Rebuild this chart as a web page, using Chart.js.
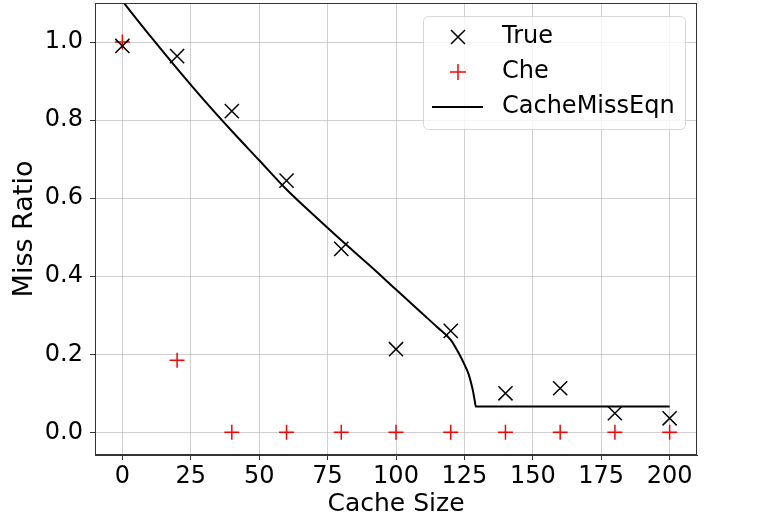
<!DOCTYPE html>
<html>
<head>
<meta charset="utf-8">
<script src="https://cdn.jsdelivr.net/npm/chart.js@4/dist/chart.umd.min.js"></script>
<style>
  body { margin: 0; background: #fff; }
  #wrap { width: 780px; height: 519px; }
</style>
</head>
<body>
<div id="wrap"><canvas id="missChart" width="780" height="519"></canvas></div>
<script>
// cache sizes where the points were measured
const cacheSizes = [0, 20, 40, 60, 80, 100, 120, 140, 160, 180, 200];
const trueMiss = [0.99, 0.964, 0.823, 0.645, 0.47, 0.213, 0.26, 0.10, 0.113, 0.049, 0.036];
const cheMiss = [1.0, 0.185, 0, 0, 0, 0, 0, 0, 0, 0, 0];

// CacheMissEqn curve
const eqnX = [0, 10, 20, 30, 40, 50, 60, 70, 80, 90, 100, 110, 115, 120, 123, 125, 126.5, 127.5, 128.3, 128.8, 129.2, 200];
const eqnY = [1.105, 1.017, 0.932, 0.850, 0.772, 0.697, 0.622, 0.556, 0.492, 0.430, 0.366, 0.302, 0.270, 0.237, 0.202, 0.174, 0.150, 0.125, 0.100, 0.080, 0.066, 0.066];

const xTicks = [0, 25, 50, 75, 100, 125, 150, 175, 200];
const yTicks = [0.0, 0.2, 0.4, 0.6, 0.8, 1.0];

const FONT = "'DejaVu Sans', sans-serif";
const gridColor = 'rgba(176,176,176,0.6)';
const axisColor = '#333';

function toPoints(xs, ys) {
    return xs.map((x, i) => ({ x: x, y: ys[i] }));
}

// frame round the plot + legend box in the top right
const framePlugin = {
    id: 'frame',
    afterDraw(chart) {
        const ctx = chart.ctx;
        const a = chart.chartArea;
        ctx.save();
        ctx.strokeStyle = axisColor;
        ctx.lineWidth = 1;
        ctx.strokeRect(a.left + 0.5, a.top + 0.5, a.right - a.left - 1, a.bottom - a.top - 1);

        // legend
        const bx = 423, by = 16, bw = 262, bh = 113;
        ctx.beginPath();
        ctx.roundRect(bx + 0.5, by + 0.5, bw, bh, 5);
        ctx.fillStyle = 'rgba(255,255,255,0.8)';
        ctx.fill();
        ctx.strokeStyle = 'rgba(204,204,204,0.8)';
        ctx.stroke();

        const mx = 458, tx = 502;
        const rows = [37, 72, 107];
        ctx.lineWidth = 1.5;
        // x marker
        ctx.strokeStyle = '#000';
        ctx.beginPath();
        ctx.moveTo(mx - 7, rows[0] - 7); ctx.lineTo(mx + 7, rows[0] + 7);
        ctx.moveTo(mx + 7, rows[0] - 7); ctx.lineTo(mx - 7, rows[0] + 7);
        ctx.stroke();
        // + marker
        ctx.strokeStyle = 'red';
        ctx.beginPath();
        ctx.moveTo(mx - 8, rows[1]); ctx.lineTo(mx + 8, rows[1]);
        ctx.moveTo(mx, rows[1] - 8); ctx.lineTo(mx, rows[1] + 8);
        ctx.stroke();
        // line sample
        ctx.strokeStyle = '#000';
        ctx.lineWidth = 2;
        ctx.beginPath();
        ctx.moveTo(432, rows[2]); ctx.lineTo(483, rows[2]);
        ctx.stroke();

        ctx.fillStyle = '#000';
        ctx.font = '24px ' + FONT;
        ctx.textBaseline = 'middle';
        ctx.fillText('True', tx, rows[0]);
        ctx.fillText('Che', tx, rows[1]);
        ctx.fillText('CacheMissEqn', tx, rows[2]);
        ctx.restore();
    }
};

const ctx = document.getElementById('missChart').getContext('2d');
const missChart = new Chart(ctx, {
    type: 'scatter',
    data: {
        datasets: [
            {
                label: 'True',
                data: toPoints(cacheSizes, trueMiss),
                pointStyle: 'crossRot',
                pointRadius: 10,
                pointBorderWidth: 1.5,
                borderColor: '#000',
                backgroundColor: '#000',
                showLine: false,
                order: 1
            },
            {
                label: 'Che',
                data: toPoints(cacheSizes, cheMiss),
                pointStyle: 'cross',
                pointRadius: 7.5,
                pointBorderWidth: 1.5,
                borderColor: 'red',
                backgroundColor: 'red',
                showLine: false,
                order: 2
            },
            {
                label: 'CacheMissEqn',
                data: toPoints(eqnX, eqnY),
                showLine: true,
                borderColor: '#000',
                borderWidth: 2,
                pointRadius: 0,
                cubicInterpolationMode: 'monotone',
                order: 0
            }
        ]
    },
    options: {
        responsive: false,
        animation: false,
        layout: { autoPadding: false, padding: { top: 3, right: 83, left: 0, bottom: 0 } },
        plugins: {
            legend: { display: false },
            tooltip: { enabled: false }
        },
        scales: {
            x: {
                type: 'linear',
                min: -10,
                max: 210,
                afterBuildTicks: (scale) => { scale.ticks = xTicks.map(v => ({ value: v })); },
                afterFit: (scale) => { scale.height = 64; scale.paddingLeft = 0; scale.paddingRight = 0; },
                grid: { color: gridColor, tickColor: axisColor, tickLength: 5, lineWidth: 1 },
                border: { color: axisColor, width: 1 },
                ticks: { color: '#000', font: { family: FONT, size: 24 }, padding: 2, maxRotation: 0 },
                title: { display: true, text: 'Cache Size', color: '#000', font: { family: FONT, size: 25 }, padding: { top: 0, bottom: 0 } }
            },
            y: {
                min: -0.058,
                max: 1.1,
                afterBuildTicks: (scale) => { scale.ticks = yTicks.map(v => ({ value: v })); },
                afterFit: (scale) => { scale.width = 95; scale.paddingTop = 0; scale.paddingBottom = 0; },
                grid: { color: gridColor, tickColor: axisColor, tickLength: 5, lineWidth: 1 },
                border: { color: axisColor, width: 1 },
                ticks: { color: '#000', font: { family: FONT, size: 24 }, padding: 7, callback: v => v.toFixed(1) },
                title: { display: true, text: 'Miss Ratio', color: '#000', font: { family: FONT, size: 27 }, padding: { top: 9, bottom: 0 } }
            }
        }
    },
    plugins: [framePlugin]
});
</script>
</body>
</html>
